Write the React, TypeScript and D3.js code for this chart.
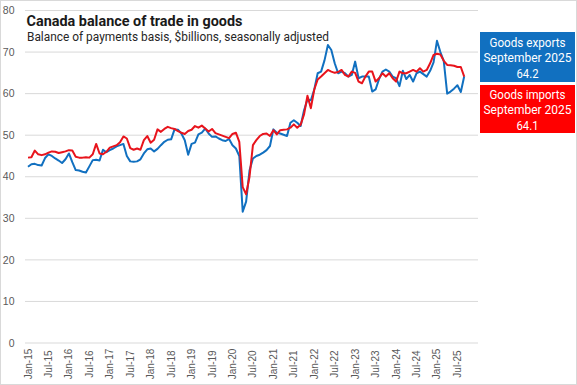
import { line, scaleLinear } from "d3"

const exportsGoods = [
    42.4, 43.0, 43.1, 42.8, 42.7, 44.5, 45.4, 45.0, 44.4, 43.9, 43.3, 44.2,
    45.6, 43.5, 41.6, 41.5, 41.2, 41.0, 42.5, 44.0, 44.1, 43.9, 46.5, 45.9,
    46.4, 46.8, 47.3, 47.6, 47.9, 45.0, 43.7, 43.6, 43.7, 44.2, 45.6, 46.6,
    46.8, 46.1, 46.7, 47.6, 48.4, 48.9, 49.0, 51.4, 51.3, 50.4, 48.8, 45.3,
    47.9, 48.2, 50.2, 50.6, 51.6, 50.4, 49.6, 49.7, 49.2, 48.8, 48.6, 49.1,
    47.6, 46.8, 45.0, 31.6, 34.0, 41.5, 44.4, 45.0, 45.3, 45.8, 46.4, 47.4,
    51.4, 50.6, 50.4, 50.1, 49.8, 53.0, 53.6, 53.0, 52.2, 56.0, 58.6, 58.4,
    61.0, 64.9, 65.3, 68.0, 71.7, 70.5, 67.3, 64.9, 65.3, 64.9, 64.1, 64.5,
    67.7, 63.7, 64.1, 64.1, 64.1, 60.5, 61.0, 63.5, 65.3, 65.8, 65.3, 64.1,
    63.7, 61.8, 65.5, 63.5, 64.5, 62.9, 64.9, 65.3, 64.7, 64.1, 65.5, 67.5,
    72.7, 70.0, 67.8, 60.0, 60.5, 61.2, 62.0, 60.4, 64.2,
]

const importsGoods = [
    44.6, 44.7, 46.3, 45.4, 45.2, 45.4, 45.8, 46.1, 46.0, 45.7, 45.9, 46.1,
    46.4, 46.3, 44.8, 44.6, 44.6, 44.7, 44.6, 45.4, 47.9, 45.6, 45.4, 46.0,
    47.0, 47.3, 47.6, 48.3, 49.7, 49.2, 46.9, 46.5, 46.8, 46.5, 48.8, 49.8,
    48.2, 48.9, 51.4, 50.8, 51.5, 52.0, 51.7, 51.5, 51.0, 50.6, 50.3, 51.0,
    51.3, 52.2, 51.8, 52.3, 51.6, 50.9, 51.5, 50.5, 50.2, 49.9, 49.6, 49.3,
    50.3, 50.6, 48.4, 37.5, 35.8, 40.0, 47.6, 48.8, 49.8, 50.3, 50.4, 49.8,
    51.2, 50.2, 51.2, 51.3, 51.4, 51.8, 52.6, 51.8, 52.5, 55.0, 59.5, 56.5,
    61.0, 63.4, 64.1, 64.9, 65.7, 65.3, 65.0, 65.2, 65.7, 64.5, 64.1, 65.3,
    65.0, 62.9, 62.5, 64.1, 65.3, 65.3, 62.9, 63.7, 64.9, 64.1, 64.9, 63.7,
    62.9, 65.3, 64.9, 64.9, 65.3, 65.7, 65.3, 66.1, 65.3, 65.7, 67.3, 69.3,
    69.6, 69.4, 67.9, 66.9, 66.8, 66.7, 66.4, 66.4, 64.1,
]

// one label every 6 months, starting at Jan-15
const tickLabels = [
    "Jan-15", "Jul-15", "Jan-16", "Jul-16", "Jan-17", "Jul-17", "Jan-18", "Jul-18",
    "Jan-19", "Jul-19", "Jan-20", "Jul-20", "Jan-21", "Jul-21", "Jan-22", "Jul-22",
    "Jan-23", "Jul-23", "Jan-24", "Jul-24", "Jan-25", "Jul-25",
]
const yTicks = [0, 10, 20, 30, 40, 50, 60, 70, 80]

const title = "Canada balance of trade in goods"
const subtitle = "Balance of payments basis, $billions, seasonally adjusted"
const exportsLabel = ["Goods exports", "September 2025", "64.2"]
const importsLabel = ["Goods imports", "September 2025", "64.1"]

const blue = "#1170c0"
const red = "#e8141c"

// widths of the three lines in each coloured box
const boxLineWidths = [76, 88, 22]

const App = () => {
    const width = 577
    const height = 385

    const x = scaleLinear().domain([0, 128]).range([28, 28 + 128 * 3.408])
    const y = scaleLinear().domain([0, 80]).range([343, 10.5])

    const path = line<number>()
        .x((d, i) => x(i))
        .y(d => y(d))

    const boxX = 480
    const boxW = 95

    const boxText = (lines: string[], top: number) => lines.map((s, k) => (
        <text key={s} x={boxX + boxW / 2} y={top + k * 15.5}
            textLength={boxLineWidths[k]} lengthAdjust="spacingAndGlyphs">{s}</text>
    ))

    return (
        <svg width={width} height={height}
            style={{ position: "absolute", left: 0, top: 0, background: "#fff" }}
            fontFamily="'Liberation Sans', Arial, sans-serif">
            <rect x={0.5} y={0.5} width={width - 1} height={height - 1} fill="#fff" stroke="#d9d9d9" />

            <g className="grid">
                {yTicks.map(t => (
                    <g key={t}>
                        <line x1={25} x2={478} y1={y(t)} y2={y(t)} stroke="#d9d9d9" strokeWidth={1} />
                        <text x={14.5} y={y(t)} dy="0.35em" textAnchor="end" fontSize={10.5} fill="#595959">{t}</text>
                    </g>
                ))}
            </g>

            <g className="xaxis">
                {tickLabels.map((t, k) => (
                    <text key={t} transform={`translate(${x(k * 6) + 3.5},364) rotate(-90)`}
                        textAnchor="middle" fontSize={10} fill="#595959"
                        fontFamily="'Liberation Sans Narrow', 'Liberation Sans', Arial, sans-serif">{t}</text>
                ))}
            </g>

            <g className="lines" fill="none" strokeWidth={2} strokeLinejoin="round">
                <path d={path(exportsGoods)} stroke={blue} />
                <path d={path(importsGoods)} stroke={red} />
            </g>

            <text x={26.5} y={25.5} fontSize={15} fontWeight="bold" fill="#1a1a1a"
                fontFamily="Roboto, 'Noto Sans', sans-serif" textLength={216} lengthAdjust="spacingAndGlyphs">{title}</text>
            <text x={27} y={40.5} fontSize={12} fill="#262626"
                fontFamily="Roboto, 'Noto Sans', sans-serif" textLength={302} lengthAdjust="spacingAndGlyphs">{subtitle}</text>

            <g className="legend" fontFamily="Roboto, 'Noto Sans', sans-serif" fontSize={12.5} fill="#fff" textAnchor="middle">
                <rect x={boxX} y={32} width={boxW} height={50} fill={blue} />
                {boxText(exportsLabel, 46.5)}
                <rect x={boxX} y={85} width={boxW} height={48} fill="#ff0000" />
                {boxText(importsLabel, 98.5)}
            </g>
        </svg>
    )
}

export default App
